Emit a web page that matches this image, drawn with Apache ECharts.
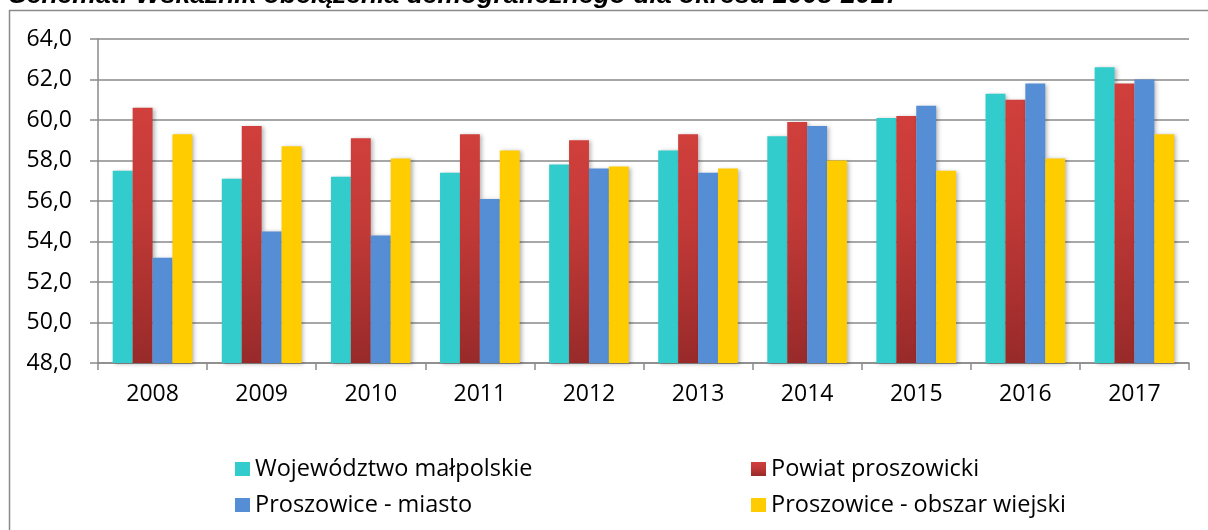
<!DOCTYPE html>
<html>
<head>
<meta charset="utf-8">
<script src="https://cdn.jsdelivr.net/npm/echarts@6/dist/echarts.min.js"></script>
<style>
html,body{margin:0;padding:0;background:#fff;}
#chart{width:1208px;height:530px;}
</style>
</head>
<body>
<div id="chart"></div>
<script>
var years = ['2008','2009','2010','2011','2012','2013','2014','2015','2016','2017'];
var seriesNames = ['Województwo małpolskie','Powiat proszowicki','Proszowice - miasto','Proszowice - obszar wiejski'];
var wojewodztwo = [57.5,57.1,57.2,57.4,57.8,58.5,59.2,60.1,61.3,62.6];
var powiat      = [60.6,59.7,59.1,59.3,59.0,59.3,59.9,60.2,61.0,61.8];
var miasto      = [53.2,54.5,54.3,56.1,57.6,57.4,59.7,60.7,61.8,62.0];
var wies        = [59.3,58.7,58.1,58.5,57.7,57.6,58.0,57.5,58.1,59.3];
var yTicks = {min:48, max:64, interval:2};

var fontFam = '"Open Sans", "Noto Sans", sans-serif';

function barSeries(name, data, color){
	return {
		name:name,
		type:'bar',
		data:data,
		barGap:'0%',
		barCategoryGap:'27%',
		itemStyle:{
			color:color,
			shadowColor:'rgba(0,0,0,0.28)',
			shadowBlur:4,
			shadowOffsetX:2,
			shadowOffsetY:1
		}
	};
}

var redGrad = new echarts.graphic.LinearGradient(0,0,0,1,[
	{offset:0, color:'#D03F3C'},
	{offset:0.4, color:'#C23A37'},
	{offset:1, color:'#982A2A'}
]);

var legendText = {fontFamily:fontFam, fontSize:23.5, color:'#000', lineHeight:24};

var chart = echarts.init(document.getElementById('chart'));
var option = {
	animation:false,
	backgroundColor:'#fff',
	textStyle:{fontFamily:fontFam},
	graphic:[
		{
			type:'rect',
			shape:{x:9.5, y:10.5, width:1400, height:700},
			style:{fill:'none', stroke:'#8a8a8a', lineWidth:1.5},
			silent:true
		},
		{
			type:'text',
			x:9, y:9,
			style:{
				text:'Schemat: Wskaźnik obciążenia demograficznego dla okresu 2008-2017',
				font:'italic bold 26.5px "Liberation Sans", Arial, sans-serif',
				fill:'#000',
				textVerticalAlign:'bottom'
			},
			silent:true
		}
	],
	grid:{left:98, top:39, right:19, bottom:167},
	legend:[
		{
			data:[seriesNames[0], seriesNames[2]],
			orient:'vertical',
			left:235, top:457, padding:0,
			itemWidth:15, itemHeight:14, itemGap:12,
			icon:'rect',
			textStyle:legendText
		},
		{
			data:[seriesNames[1], seriesNames[3]],
			orient:'vertical',
			left:751, top:457, padding:0,
			itemWidth:15, itemHeight:14, itemGap:12,
			icon:'rect',
			textStyle:legendText
		}
	],
	xAxis:{
		type:'category',
		data:years,
		axisLine:{lineStyle:{color:'#8a8a8a', width:1.5}},
		axisTick:{show:true, length:7, interval:0, lineStyle:{color:'#8a8a8a', width:1.5}},
		axisLabel:{color:'#000', fontSize:23, fontFamily:fontFam, margin:20, interval:0}
	},
	yAxis:{
		type:'value',
		min:yTicks.min, max:yTicks.max, interval:yTicks.interval,
		axisLine:{show:true, lineStyle:{color:'#8a8a8a', width:1.5}},
		axisTick:{show:true, length:8, lineStyle:{color:'#8a8a8a', width:1.5}},
		splitLine:{lineStyle:{color:'#8a8a8a', width:1.5}},
		axisLabel:{
			color:'#000', fontSize:23, fontFamily:fontFam, margin:26,
			formatter:function(v){ return v.toFixed(1).replace('.', ','); }
		}
	},
	series:[
		barSeries(seriesNames[0], wojewodztwo, '#33CCCC'),
		barSeries(seriesNames[1], powiat, redGrad),
		barSeries(seriesNames[2], miasto, '#558ED5'),
		barSeries(seriesNames[3], wies, '#FFCC00')
	]
};
chart.setOption(option);
</script>
</body>
</html>
